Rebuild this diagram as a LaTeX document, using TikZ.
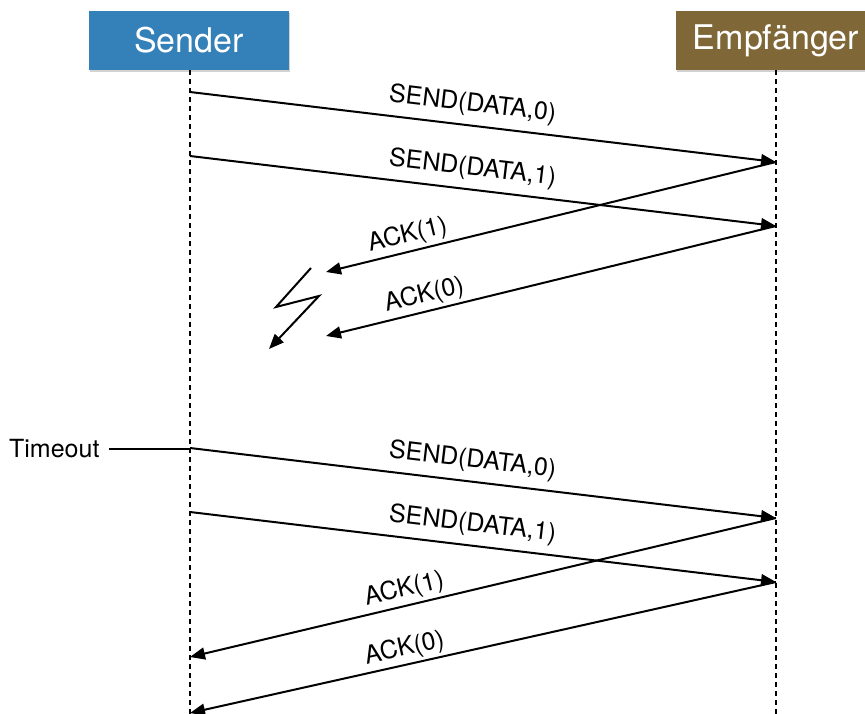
\documentclass[tikz,border=0pt]{standalone}
\usepackage{fontspec}
\setmainfont{TeX Gyre Heros}
\usetikzlibrary{arrows.meta,shadows}

\definecolor{senderblue}{RGB}{52,128,184}
\definecolor{recvbrown}{RGB}{128,103,55}

\begin{document}
\begin{tikzpicture}[
        x=1pt, y=-1pt,
        party/.style={rectangle, minimum width=200pt, minimum height=59pt,
                      text=white, font=\fontsize{34}{38}\selectfont,
                      drop shadow={opacity=0.35, shadow xshift=1pt, shadow yshift=-2pt}},
        life/.style={line width=2.4pt, dash pattern=on 5pt off 4pt},
        msg/.style={line width=2pt, -{Triangle[length=15pt, width=12pt]}},
        lbl/.style={font=\fontsize{25}{28}\selectfont, sloped, inner sep=2pt},
      ]
        \clip (0,0) rectangle (865,714);
        \fill[white] (0,0) rectangle (865,714);

        \node[party, fill=senderblue] (sender) at (189,40.5) {Sender};
        \node[party, fill=recvbrown] (recv) at (776,40.5) {Empfänger};

        \coordinate (sEnd) at (190,714);
        \coordinate (rEnd) at (776,714);
        \draw[life] (sender.south -| sEnd) -- (sEnd);
        \draw[life] (recv.south -| rEnd) -- (rEnd);

        \foreach \n/\y in {0/92,1/156,2/448,3/512} {
          \coordinate (s\n) at (190,\y);
          \coordinate (r\n) at (776,\y+70);
        }
        \coordinate (s4) at (190,657);
        \coordinate (s5) at (190,713);
        \coordinate (l0) at (326,272);
        \coordinate (l1) at (326,336);

        \draw[msg] (s0) -- node[lbl, above=6pt, pos=0.478] (m0) {SEND(DATA,0)} (r0);
        \draw[msg] (s1) -- node[lbl, above=6pt, pos=0.478] (m1) {SEND(DATA,1)} (r1);
        \draw[msg] (r0) -- node[lbl, above=1pt, pos=0.81] (a0) {ACK(1)} (l0);
        \draw[msg] (r1) -- node[lbl, above=1pt, pos=0.773] (a1) {ACK(0)} (l1);

        \coordinate (z0) at (311,268);
        \coordinate (z1) at (276,307);
        \coordinate (z2) at (319,296);
        \coordinate (z3) at (269,349);
        \draw[msg] (z0) -- (z1) -- (z2) -- (z3);

        \node[font=\fontsize{25}{28}\selectfont, anchor=east] (timeout) at (103,449) {Timeout};
        \draw[line width=2pt] (timeout.east) ++(6,0) coordinate (tl) -- (tl -| s2);

        \draw[msg] (s2) -- node[lbl, above=6pt, pos=0.478] (m2) {SEND(DATA,0)} (r2);
        \draw[msg] (s3) -- node[lbl, above=6pt, pos=0.478] (m3) {SEND(DATA,1)} (r3);
        \draw[msg] (r2) -- node[lbl, above=1pt, pos=0.628] (a2) {ACK(1)} (s4);
        \draw[msg] (r3) -- node[lbl, above=1pt, pos=0.628] (a3) {ACK(0)} (s5);
      \end{tikzpicture}
\end{document}
